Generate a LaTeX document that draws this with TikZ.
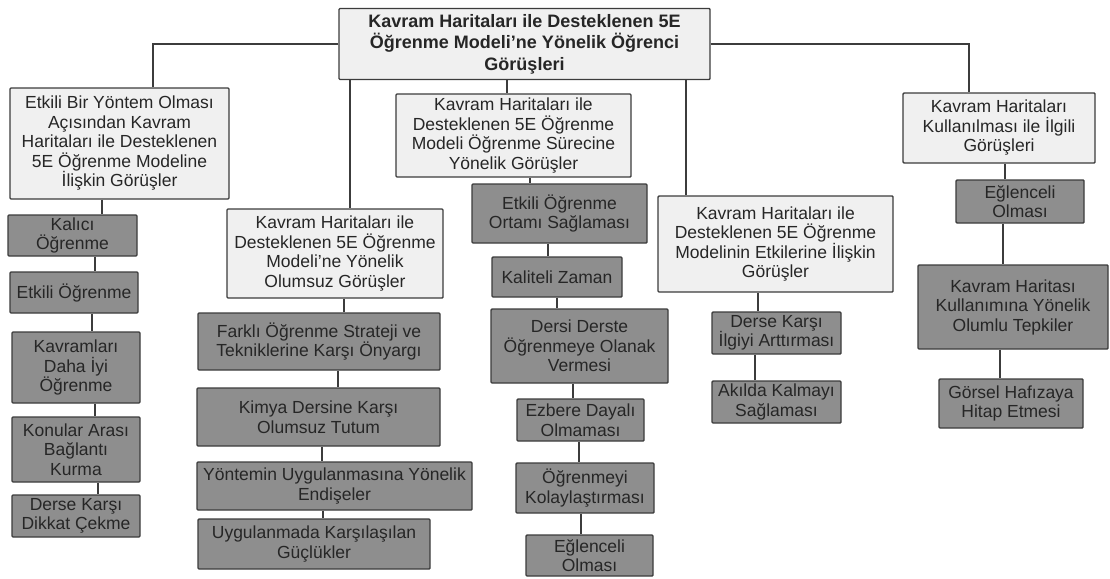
\documentclass[tikz,border=0pt]{standalone}
\usepackage{fontspec}
\setmainfont{Liberation Sans}
\usepackage{xcolor}
\definecolor{cLine}{HTML}{3C3C3C}
\definecolor{cLight}{HTML}{F0F0F0}
\definecolor{cDark}{HTML}{8E8E8E}
\definecolor{cText}{HTML}{262626}
\usepackage{tikz}
\usetikzlibrary{positioning,calc}
\tikzset{
  node-box/.style={draw=cLine,line width=1.4pt,rounded corners=1pt,
    inner sep=0pt,align=center,text=cText,
    font=\fontsize{17.5}{19.5}\selectfont},
  node-root/.style={node-box,fill=cLight,
    font=\fontsize{18}{21.5}\selectfont\bfseries},
  node-cat/.style={node-box,fill=cLight},
  node-item/.style={node-box,fill=cDark},
  link/.style={draw=cLine,line width=1.2pt},
}

\begin{document}
\begin{tikzpicture}[x=1pt,y=-1pt]
  \useasboundingbox (0,0) rectangle (1110,578);
  % kök
  \node[node-root,minimum width=371pt,minimum height=71pt] (root) at (524.5,44)
    {Kavram Haritaları ile Desteklenen 5E\\Öğrenme Modeli’ne Yönelik Öğrenci\\Görüşleri};
  % ana kategoriler
  \node[node-cat,minimum width=219pt,minimum height=111pt] (c1) at (119.5,143.5)
    {Etkili Bir Yöntem Olması\\Açısından Kavram\\Haritaları ile Desteklenen\\5E Öğrenme Modeline\\İlişkin Görüşler};
  \node[node-cat,minimum width=216pt,minimum height=89pt] (c2) at (335,253.5)
    {Kavram Haritaları ile\\Desteklenen 5E Öğrenme\\Modeli’ne Yönelik\\Olumsuz Görüşler};
  \node[node-cat,minimum width=235pt,minimum height=83pt] (c3) at (513.5,135.5)
    {Kavram Haritaları ile\\Desteklenen 5E Öğrenme\\Modeli Öğrenme Sürecine\\Yönelik Görüşler};
  \node[node-cat,minimum width=235pt,minimum height=96pt] (c4) at (775.5,244)
    {Kavram Haritaları ile\\Desteklenen 5E Öğrenme\\Modelinin Etkilerine İlişkin\\Görüşler};
  \node[node-cat,minimum width=192pt,minimum height=70pt] (c5) at (999,128)
    {Kavram Haritaları\\Kullanılması ile İlgili\\Görüşleri};
  % 1. dal
  \node[node-item,minimum width=129pt,minimum height=41pt] (k1) at (72.5,235.5) {Kalıcı\\Öğrenme};
  \node[node-item,minimum width=128pt,minimum height=41pt] (k2) at (74,292.5) {Etkili Öğrenme};
  \node[node-item,minimum width=128pt,minimum height=71pt] (k3) at (76,367.5) {Kavramları\\Daha İyi\\Öğrenme};
  \node[node-item,minimum width=128pt,minimum height=65pt] (k4) at (76,449.5) {Konular Arası\\Bağlantı\\Kurma};
  \node[node-item,minimum width=128pt,minimum height=42pt] (k5) at (76,516) {Derse Karşı\\Dikkat Çekme};
  % 2. dal
  \node[node-item,minimum width=242pt,minimum height=57pt] (m1) at (319,341.5) {Farklı Öğrenme Strateji ve\\Tekniklerine Karşı Önyargı};
  \node[node-item,minimum width=243pt,minimum height=58pt] (m2) at (318.5,417) {Kimya Dersine Karşı\\Olumsuz Tutum};
  \node[node-item,minimum width=275pt,minimum height=48pt] (m3) at (334.5,486) {Yöntemin Uygulanmasına Yönelik\\Endişeler};
  \node[node-item,minimum width=232pt,minimum height=50pt] (m4) at (314,544) {Uygulanmada Karşılaşılan\\Güçlükler};
  % 3. dal
  \node[node-item,minimum width=175pt,minimum height=59pt] (e1) at (559.5,213.5) {Etkili Öğrenme\\Ortamı Sağlaması};
  \node[node-item,minimum width=130pt,minimum height=40pt] (e2) at (557,277) {Kaliteli Zaman};
  \node[node-item,minimum width=177pt,minimum height=74pt] (e3) at (579.5,346) {Dersi Derste\\Öğrenmeye Olanak\\Vermesi};
  \node[node-item,minimum width=127pt,minimum height=42pt] (e4) at (580.5,420) {Ezbere Dayalı\\Olmaması};
  \node[node-item,minimum width=138pt,minimum height=50pt] (e5) at (585,488) {Öğrenmeyi\\Kolaylaştırması};
  \node[node-item,minimum width=127pt,minimum height=41pt] (e6) at (589.5,555.5) {Eğlenceli\\Olması};
  % 4. dal
  \node[node-item,minimum width=129pt,minimum height=42pt] (d1) at (776.5,333) {Derse Karşı\\İlgiyi Arttırması};
  \node[node-item,minimum width=129pt,minimum height=42pt] (d2) at (776.5,402) {Akılda Kalmayı\\Sağlaması};
  % 5. dal
  \node[node-item,minimum width=128pt,minimum height=43pt] (f1) at (1020,201.5) {Eğlenceli\\Olması};
  \node[node-item,minimum width=190pt,minimum height=84pt] (f2) at (1013,307) {Kavram Haritası\\Kullanımına Yönelik\\Olumlu Tepkiler};
  \node[node-item,minimum width=144pt,minimum height=49pt] (f3) at (1011,403.5) {Görsel Hafızaya\\Hitap Etmesi};

  % bağlantılar
  \draw[link] (root.west) -| (c1.north -| 153,0);
  \draw[link] (root.east) -| (c5.north -| 969,0);
  \draw[link] (root.south -| 350,0) -- (c2.north -| 350,0);
  \draw[link] (root.south -| 507,0) -- (c3.north -| 507,0);
  \draw[link] (root.south -| 686,0) -- (c4.north -| 686,0);

  \draw[link] (c1.south -| 102,0) -- (k1.north -| 102,0);
  \draw[link] (k1.south -| 95,0) -- (k2.north -| 95,0);
  \draw[link] (k2.south -| 92,0) -- (k3.north -| 92,0);
  \draw[link] (k3.south -| 95,0) -- (k4.north -| 95,0);
  \draw[link] (k4.south -| 98,0) -- (k5.north -| 98,0);

  \draw[link] (c2.south -| 344,0) -- (m1.north -| 344,0);
  \draw[link] (m1.south -| 338,0) -- (m2.north -| 338,0);
  \draw[link] (m2.south -| 322,0) -- (m3.north -| 322,0);
  \draw[link] (m3.south -| 323,0) -- (m4.north -| 323,0);

  \draw[link] (c3.south -| 530,0) -- (e1.north -| 530,0);
  \draw[link] (e1.south -| 548,0) -- (e2.north -| 548,0);
  \draw[link] (e2.south -| 557,0) -- (e3.north -| 557,0);
  \draw[link] (e3.south -| 573,0) -- (e4.north -| 573,0);
  \draw[link] (e4.south -| 579,0) -- (e5.north -| 579,0);
  \draw[link] (e5.south -| 581,0) -- (e6.north -| 581,0);

  \draw[link] (c4.south -| 758,0) -- (d1.north -| 758,0);
  \draw[link] (d1.south -| 755,0) -- (d2.north -| 755,0);

  \draw[link] (c5.south -| 1005,0) -- (f1.north -| 1005,0);
  \draw[link] (f1.south -| 1003,0) -- (f2.north -| 1003,0);
  \draw[link] (f2.south -| 1000,0) -- (f3.north -| 1000,0);
\end{tikzpicture}
\end{document}
